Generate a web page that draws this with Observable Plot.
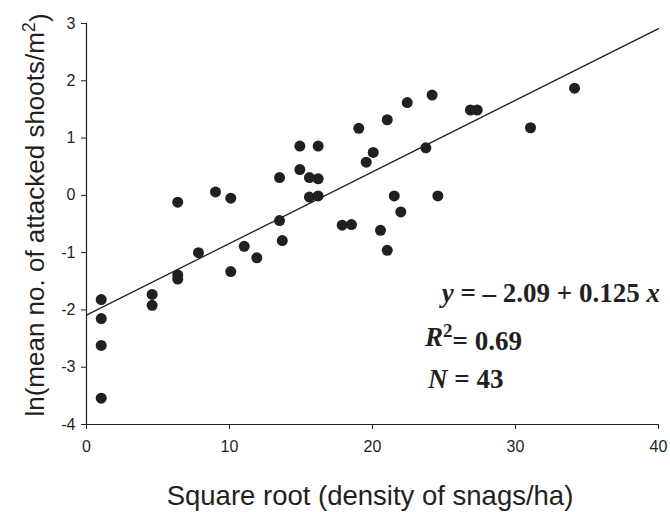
<!DOCTYPE html>
<html>
<head>
<meta charset="utf-8">
<script src="https://cdn.jsdelivr.net/npm/d3@7"></script>
<script src="https://cdn.jsdelivr.net/npm/@observablehq/plot@0.6"></script>
<style>
  html, body { margin: 0; padding: 0; background: #fff; }
  #chart svg { display: block; }
</style>
</head>
<body>
<div id="chart"></div>
<script>
// Square root (density of snags/ha)
const xValues = [1.03, 1.03, 1.03, 1.03, 4.59, 4.59, 6.38, 6.38, 6.38, 7.83,
  9.02, 10.09, 10.09, 11.03, 11.91, 13.5, 13.5, 13.69, 14.92, 14.92,
  15.59, 15.59, 16.2, 16.2, 16.2, 17.88, 18.53, 19.04, 19.56, 20.05,
  20.56, 21.03, 21.03, 21.52, 21.98, 22.43, 23.73, 24.17, 24.57, 26.85,
  27.32, 31.05, 34.13];
// ln(mean no. of attacked shoots/m2)
const yValues = [-1.82, -2.15, -2.62, -3.54, -1.73, -1.92, -0.12, -1.39, -1.46, -1.00,
  0.06, -0.05, -1.33, -0.89, -1.09, 0.31, -0.44, -0.79, 0.86, 0.45,
  0.31, -0.03, 0.86, 0.29, -0.01, -0.52, -0.51, 1.17, 0.58, 0.75,
  -0.61, 1.32, -0.96, -0.01, -0.29, 1.62, 0.83, 1.75, -0.01, 1.49,
  1.49, 1.18, 1.87];
const xTicks = [0, 10, 20, 30, 40];
const yTicks = [-4, -3, -2, -1, 0, 1, 2, 3];
const intercept = -2.09;
const slope = 0.125;
const rSquared = "0.69";
const nObs = "43";

const points = xValues.map((x, i) => ({x, y: yValues[i]}));
const fitLine = [xTicks[0], xTicks[xTicks.length - 1]].map(x => ({x, y: intercept + slope * x}));

const ink = "#231f20";
const chart = Plot.plot({
  width: 670,
  height: 512,
  marginLeft: 86,
  marginRight: 12,
  marginTop: 23,
  marginBottom: 88,
  x: {domain: [0, 40]},
  y: {domain: [-4, 3]},
  style: {fontFamily: "'Liberation Sans', Arial, sans-serif", fontSize: "16px", color: ink, background: "#fff"},
  marks: [
    Plot.axisX({ticks: xTicks, tickSize: 5, tickPadding: 11, label: null, fontSize: 16, stroke: ink}),
    Plot.axisY({ticks: yTicks, tickSize: 5, tickPadding: 6, tickFormat: d => String(d), label: null, fontSize: 16, stroke: ink}),
    Plot.ruleY([-4], {stroke: ink, strokeWidth: 1.2}),
    Plot.ruleX([0], {stroke: ink, strokeWidth: 1.2}),
    Plot.line(fitLine, {x: "x", y: "y", stroke: ink, strokeWidth: 1.3}),
    Plot.dot(points, {x: "x", y: "y", r: 5.5, fill: ink, stroke: "none"})
  ]
});

const svg = d3.select(chart);
// y axis title
const yl = svg.append("text")
  .attr("transform", "translate(44,215) rotate(-90)")
  .attr("text-anchor", "middle")
  .attr("fill", ink)
  .style("font-family", "'Liberation Sans', Arial, sans-serif")
  .style("font-size", "26px");
yl.append("tspan").text("ln(mean no. of attacked shoots/m");
yl.append("tspan").attr("dy", "-0.5em").style("font-size", "18px").text("2");
yl.append("tspan").attr("dy", "0.5em").text(")");

// x axis title
svg.append("text")
  .attr("x", 370).attr("y", 505)
  .attr("text-anchor", "middle")
  .attr("fill", ink)
  .style("font-family", "'Liberation Sans', Arial, sans-serif")
  .style("font-size", "27.5px")
  .text("Square root (density of snags/ha)");

// annotations
const serif = "'Liberation Serif', 'Times New Roman', serif";
const l1 = svg.append("text").attr("x", 660).attr("y", 302).attr("text-anchor", "end")
  .attr("fill", ink).style("font-family", serif).style("font-size", "27px").style("font-weight", "bold");
l1.append("tspan").style("font-style", "italic").text("y");
l1.append("tspan").text(` = \u2013 ${Math.abs(intercept).toFixed(2)} + ${slope} `);
l1.append("tspan").style("font-style", "italic").text("x");

const l2 = svg.append("text").attr("x", 425).attr("y", 346).attr("text-anchor", "start")
  .attr("fill", ink).style("font-family", serif).style("font-size", "27px").style("font-weight", "bold");
l2.append("tspan").style("font-style", "italic").text("R");
l2.append("tspan").attr("dy", "-0.45em").style("font-size", "19px").text("2");
l2.append("tspan").attr("dy", "0.45em").text("= " + rSquared);

const l3 = svg.append("text").attr("x", 428).attr("y", 388).attr("text-anchor", "start")
  .attr("fill", ink).style("font-family", serif).style("font-size", "27px").style("font-weight", "bold");
l3.append("tspan").style("font-style", "italic").text("N");
l3.append("tspan").text(" = " + nObs);

document.getElementById("chart").appendChild(chart);
</script>
</body>
</html>
